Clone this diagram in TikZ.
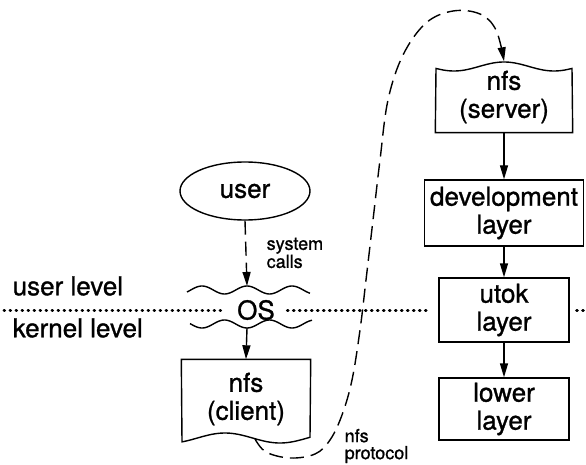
\documentclass[tikz,border=0pt]{standalone}
\usepackage{fontspec}
\setmainfont{TeX Gyre Heros}[FakeBold=1]
\usepackage{tikz}
\usetikzlibrary{shapes.geometric,arrows.meta}

\begin{document}
\begin{tikzpicture}[x=1pt,y=-1pt,line width=1.4pt,
    every node/.style={font=\fontsize{26}{28}\selectfont, align=center, inner sep=2pt},
    layer/.style={draw, minimum width=130pt, minimum height=64pt},
    sheet/.style={minimum width=128pt, minimum height=78pt},
    small/.style={font=\fontsize{18}{17}\selectfont, align=left, inner sep=0pt},
    flow/.style={-{Triangle[length=14pt,width=8pt]}},
    dashflow/.style={flow, dash pattern=on 14pt off 7pt},
    levelline/.style={line width=3pt, line cap=round, dash pattern=on 0.6pt off 5.4pt}]
  \useasboundingbox (0,0) rectangle (586,465);

  % left side: user, OS and the client
  \node[ellipse, draw, minimum width=130pt, minimum height=58pt] (user) at (245,191) {user};
  \node[inner xsep=12pt] (os) at (256,310) {OS};
  \node[sheet] (client) at (246,399) {nfs\\(client)};
  \coordinate (wavetop) at (247,286);
  \coordinate (wavebot) at (247,328);

  \draw plot[domain=187:310, samples=80] (\x,{290-4*cos(8*(\x-247))});
  \draw plot[domain=190:312, samples=80] (\x,{324+4*cos(8*(\x-247))});
  \draw (client.north west) -- (client.north east)
     -- plot[domain=310:182, samples=60] (\x,{438+5*cos(3.27*(\x-280))}) -- cycle;

  \node[small, anchor=west] (calls) at (266,253) {system\\calls};
  \draw[dashflow] (user.south) -- (wavetop);
  \draw[flow] (wavebot) -- (client.north);

  % right side: the server stack
  \node[sheet, minimum width=136pt, minimum height=70pt] (server) at (504,97) {nfs\\(server)};
  \node[layer, minimum width=159pt, minimum height=66pt] (dev) at (504,213) {development\\layer};
  \node[layer] (utok) at (504,310) {utok\\layer};
  \node[layer, minimum height=62pt] (lower) at (504,409) {lower\\layer};

  \draw (server.south west)
     -- plot[domain=436:572, samples=80] (\x,{66.5-4.5*cos(3.6*(\x-504))})
     -- (server.south east) -- cycle;

  \draw[flow] (server) -- (dev);
  \draw[flow] (dev) -- (utok);
  \draw[flow] (utok) -- (lower);

  % user / kernel boundary
  \node[anchor=west, inner sep=0pt] (ulevel) at (12,286) {user level};
  \node[anchor=west, inner sep=0pt] (klevel) at (12,328) {kernel level};
  \draw[levelline] (4,310) -- (os.west);
  \draw[levelline] (os.east) -- ([xshift=-8pt]utok.west);
  \draw[levelline] ([xshift=7pt]utok.east) -- (586,310);

  % nfs protocol
  \coordinate (protostart) at (255,439);
  \draw[dashflow] plot[smooth, tension=0.6] coordinates {(protostart) (266,452) (290,458)
     (315,454) (330,440) (342,415) (352,380) (360,330) (366,280) (373,220) (380,160)
     (388,100) (403,55) (426,23) (453,11) (480,14) (496,30) (server.north)};
  \node[small, anchor=west] (proto) at (344,446) {nfs\\protocol};
\end{tikzpicture}
\end{document}
